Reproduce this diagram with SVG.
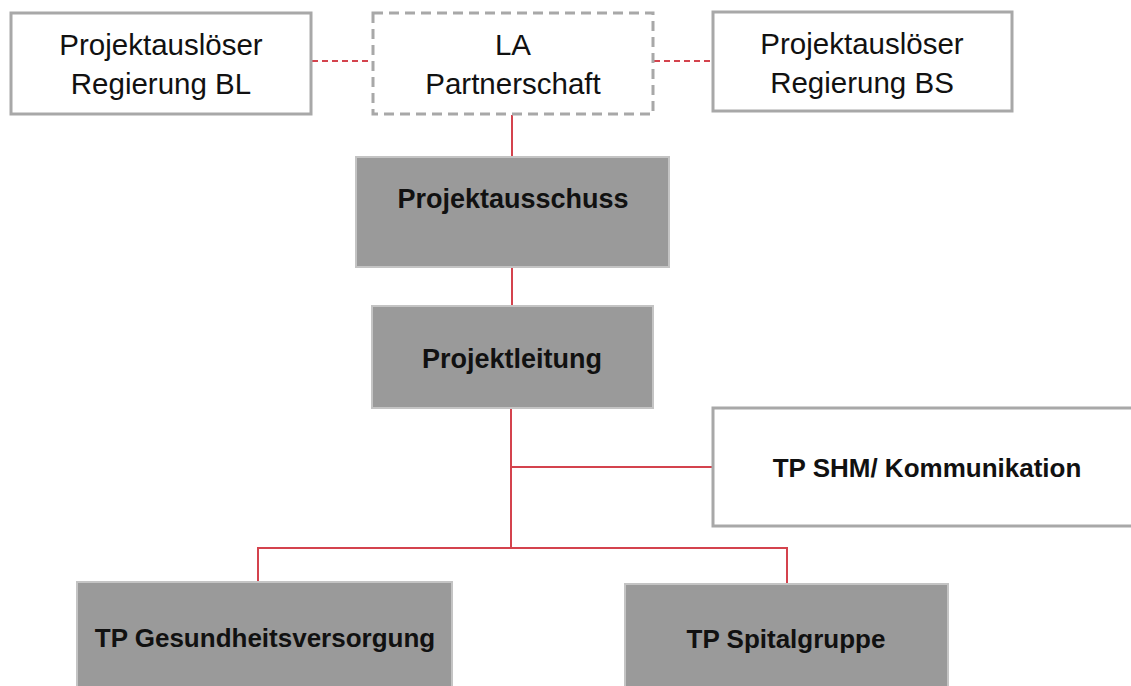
<svg xmlns="http://www.w3.org/2000/svg" width="1131" height="686" viewBox="0 0 1131 686">
<style>
.white{fill:#ffffff;stroke:#a8a8a8;stroke-width:3}
.dash{fill:#ffffff;stroke:#a8a8a8;stroke-width:3;stroke-dasharray:10 6}
.grey{fill:#9a9a9a;stroke:#c4c4c4;stroke-width:2}
.reg{font-family:"Liberation Sans",Arial,sans-serif;font-size:29.5px;fill:#111;text-anchor:middle}
.bold{font-family:"Liberation Sans",Arial,sans-serif;font-size:26px;font-weight:bold;fill:#111;text-anchor:middle}
.line{stroke:#d4434d;stroke-width:2;fill:none}
.dline{stroke:#d4434d;stroke-width:2;fill:none;stroke-dasharray:6 4}
</style>
<rect width="1131" height="686" fill="#ffffff"/>
<g id="connectors">
<line class="dline" x1="312" y1="61" x2="372" y2="61"/>
<line class="dline" x1="654" y1="61" x2="712" y2="61"/>
<line class="line" x1="512" y1="115" x2="512" y2="157"/>
<line class="line" x1="512" y1="267" x2="512" y2="306"/>
<polyline class="line" points="511,408 511,548"/>
<line class="line" x1="511" y1="467" x2="713" y2="467"/>
<polyline class="line" points="258,582 258,548 787,548 787,584"/>
</g>
<g id="node-bl">
<rect class="white" x="11" y="13" width="300" height="101"/>
<text class="reg" x="161" y="55">Projektauslöser</text>
<text class="reg" x="161" y="94">Regierung BL</text>
</g>
<g id="node-la">
<rect class="dash" x="373" y="13" width="280" height="101"/>
<text class="reg" x="513" y="55">LA</text>
<text class="reg" x="513" y="94">Partnerschaft</text>
</g>
<g id="node-bs">
<rect class="white" x="713" y="12" width="299" height="99"/>
<text class="reg" x="862" y="54">Projektauslöser</text>
<text class="reg" x="862" y="93">Regierung BS</text>
</g>
<g id="node-ausschuss">
<rect class="grey" x="356" y="157" width="313" height="110"/>
<text class="bold" x="513" y="208" style="font-size:27px">Projektausschuss</text>
</g>
<g id="node-leitung">
<rect class="grey" x="372" y="306" width="281" height="102"/>
<text class="bold" x="512" y="368" style="font-size:27px">Projektleitung</text>
</g>
<g id="node-shm">
<rect class="white" x="713" y="408" width="430" height="118"/>
<text class="bold" x="927" y="477">TP SHM/ Kommunikation</text>
</g>
<g id="node-gesund">
<rect class="grey" x="77" y="582" width="375" height="120"/>
<text class="bold" x="265" y="647">TP Gesundheitsversorgung</text>
</g>
<g id="node-spital">
<rect class="grey" x="625" y="584" width="323" height="120"/>
<text class="bold" x="786" y="648">TP Spitalgruppe</text>
</g>
</svg>
